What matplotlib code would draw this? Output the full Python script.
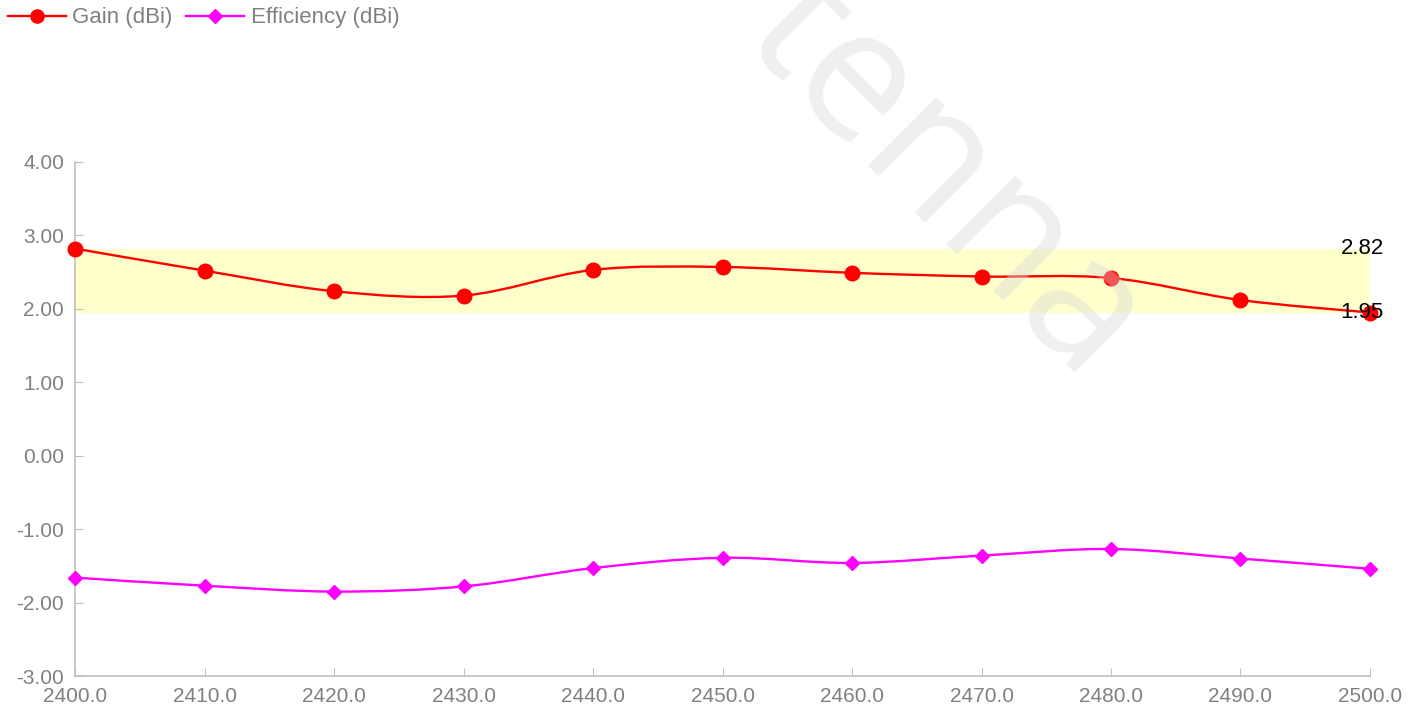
import numpy as np
import matplotlib
matplotlib.use('Agg')
import matplotlib.pyplot as plt
from matplotlib.path import Path
from matplotlib.patches import PathPatch
from matplotlib.lines import Line2D

plt.rcParams['font.family'] = ['Liberation Sans', 'DejaVu Sans']

freq = [2400, 2410, 2420, 2430, 2440, 2450, 2460, 2470, 2480, 2490, 2500]
gain = [2.82, 2.52, 2.24, 2.18, 2.53, 2.57, 2.49, 2.44, 2.42, 2.12, 1.95]
eff = [-1.66, -1.77, -1.85, -1.78, -1.53, -1.39, -1.46, -1.36, -1.27, -1.40, -1.54]
xticks = [2400, 2410, 2420, 2430, 2440, 2450, 2460, 2470, 2480, 2490, 2500]
yticks = [-3, -2, -1, 0, 1, 2, 3, 4]

gray = '#808080'
red = '#ff0000'
mag = '#ff00ff'


def smooth_path(x, y):
    # excel-like smoothed line: catmull-rom as cubic beziers
    p = np.column_stack([x, y]).astype(float)
    p = np.vstack([p[0], p, p[-1]])
    verts = [p[1]]
    codes = [Path.MOVETO]
    for i in range(1, len(p) - 2):
        c1 = p[i] + (p[i + 1] - p[i - 1]) / 6.0
        c2 = p[i + 1] - (p[i + 2] - p[i]) / 6.0
        verts += [c1, c2, p[i + 1]]
        codes += [Path.CURVE4] * 3
    return Path(verts, codes)


fig = plt.figure(figsize=(14.16, 7.15), dpi=100)
ax = fig.add_axes([0.053, 0.0545, 0.9145, 0.719])

ax.axhspan(min(gain), max(gain), xmin=0, xmax=1, color='#ffffcc', zorder=0, lw=0)

ax.add_patch(PathPatch(smooth_path(freq, gain), fill=False, ec=red, lw=1.7, zorder=3))
ax.add_patch(PathPatch(smooth_path(freq, eff), fill=False, ec=mag, lw=1.7, zorder=3))
ax.plot(freq, gain, 'o', color=red, ms=10.5, clip_on=False, zorder=4)
ax.plot(freq, eff, 'D', color=mag, ms=7.5, clip_on=False, zorder=4)

ax.text(freq[-1] - 0.6, max(gain), '%.2f' % max(gain), ha='center', va='center', fontsize=16, color='black', zorder=5)
ax.text(freq[-1] - 0.6, min(gain), '%.2f' % min(gain), ha='center', va='center', fontsize=16, color='black', zorder=5)

ax.set_xlim(2400, 2500)
ax.set_ylim(-3, 4)
ax.set_xticks(xticks)
ax.set_xticklabels(['%.1f' % v for v in xticks])
ax.set_yticks(yticks)
ax.set_yticklabels(['%.2f' % v for v in yticks])
for s in ['top', 'right']:
    ax.spines[s].set_visible(False)
for s in ['left', 'bottom']:
    ax.spines[s].set_color('#bfbfbf')
    ax.spines[s].set_linewidth(1.2)
ax.tick_params(direction='in', length=6, color='#bfbfbf', labelcolor=gray, labelsize=15, pad=8)

handles = [Line2D([], [], color=red, marker='o', ms=9.5, lw=1.7),
           Line2D([], [], color=mag, marker='D', ms=7.5, lw=1.7)]
leg = fig.legend(handles, ['Gain (dBi)', 'Efficiency (dBi)'], loc='center left',
                 bbox_to_anchor=(8 / 1416, 1 - 18 / 715), ncol=2, frameon=False, fontsize=16,
                 handlelength=2.6, handletextpad=0.3, columnspacing=0.6,
                 borderaxespad=0, borderpad=0)
for t in leg.get_texts():
    t.set_color(gray)

fig.text(0.667, 0.75, 'tenna', rotation=-45, fontsize=130, color='#d8d8d8', alpha=0.4,
         ha='center', va='center', family='Open Sans', zorder=10)

plt.savefig('out.png')
plt.close()
